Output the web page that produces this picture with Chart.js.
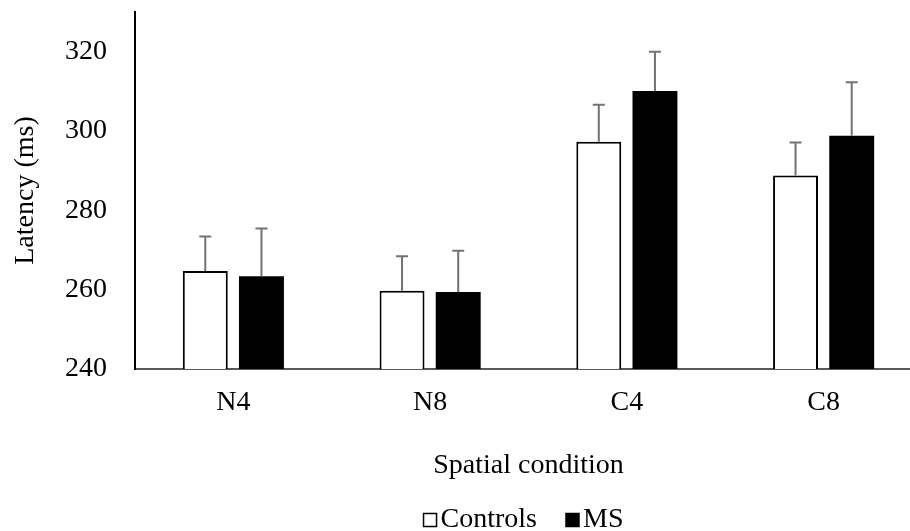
<!DOCTYPE html>
<html>
<head>
<meta charset="utf-8">
<script src="https://cdn.jsdelivr.net/npm/chart.js@4/dist/chart.umd.min.js"></script>
<style>
  html, body { margin: 0; padding: 0; background: #fff; overflow: hidden; }
  #wrap { width: 922px; height: 531px; }
</style>
</head>
<body>
<div id="wrap"><canvas id="myChart" width="922" height="531"></canvas></div>
<script>
const categories = ['N4', 'N8', 'C4', 'C8'];
const controls = [264.7, 259.7, 297.3, 288.8];
const ms = [263.4, 259.4, 310.1, 298.8];
const controlsErr = [8.7, 8.7, 9.3, 8.3];
const msErr = [12.0, 10.4, 9.9, 13.5];
const yTicks = [240, 260, 280, 300, 320];

const serif = 'Liberation Serif';
const fontSize = 28;

// upward-only error bars, drawn off the bar elements
const errorBars = {
  id: 'errorBars',
  afterDatasetsDraw(chart) {
    const ctx = chart.ctx;
    const yScale = chart.scales.y;
    chart.data.datasets.forEach((ds, i) => {
      const meta = chart.getDatasetMeta(i);
      meta.data.forEach((bar, j) => {
        const top = yScale.getPixelForValue(ds.data[j] + ds.errors[j]);
        ctx.save();
        ctx.strokeStyle = '#737373';
        ctx.lineWidth = 2;
        ctx.beginPath();
        ctx.moveTo(bar.x, bar.y);
        ctx.lineTo(bar.x, top);
        ctx.moveTo(bar.x - 6, top);
        ctx.lineTo(bar.x + 6, top);
        ctx.stroke();
        ctx.restore();
      });
    });
  }
};

// compact legend like the office one: small square right next to the text
const squareLegend = {
  id: 'squareLegend',
  afterDraw(chart) {
    const ctx = chart.ctx;
    const box = 13, gap = 4, spacing = 29;
    const y = 520;
    ctx.save();
    ctx.font = fontSize + 'px "' + serif + '"';
    const items = chart.data.datasets.map(ds => ({
      ds, w: box + gap + ctx.measureText(ds.label).width
    }));
    const total = items.reduce((s, it) => s + it.w, 0) + spacing * (items.length - 1);
    const area = chart.chartArea;
    let x = (area.left + area.right) / 2 - total / 2 - 5;
    items.forEach(it => {
      ctx.fillStyle = it.ds.backgroundColor;
      ctx.fillRect(x, y - box / 2, box, box);
      ctx.strokeStyle = '#000';
      ctx.lineWidth = 1.5;
      ctx.strokeRect(x, y - box / 2, box, box);
      ctx.fillStyle = '#000';
      ctx.textBaseline = 'middle';
      ctx.textAlign = 'left';
      ctx.fillText(it.ds.label, x + box + gap, y);
      x += it.w + spacing;
    });
    ctx.restore();
  }
};

const ctx = document.getElementById('myChart').getContext('2d');
const myChart = new Chart(ctx, {
  type: 'bar',
  data: {
    labels: categories,
    datasets: [{
      label: 'Controls',
      data: controls,
      errors: controlsErr,
      backgroundColor: '#ffffff',
      borderColor: '#000000',
      borderWidth: 2,
      barPercentage: 0.8,
      categoryPercentage: 0.571
    }, {
      label: 'MS',
      data: ms,
      errors: msErr,
      backgroundColor: '#000000',
      borderColor: '#000000',
      borderWidth: 0,
      barPercentage: 0.8,
      categoryPercentage: 0.571
    }]
  },
  options: {
    responsive: false,
    animation: false,
    layout: { padding: { top: 12, right: 0, bottom: 40, left: 0 } },
    plugins: {
      tooltip: { enabled: false },
      legend: { display: false }
    },
    scales: {
      x: {
        afterFit(scale) {
          scale.height = 122;
          scale.paddingLeft = 0;
          scale.paddingRight = 0;
        },
        grid: { display: false, drawTicks: false },
        border: { display: true, color: '#595959', width: 2 },
        ticks: { color: '#000', font: { family: serif, size: fontSize }, padding: 17 },
        title: {
          display: true,
          text: 'Spatial condition',
          color: '#000',
          font: { family: serif, size: fontSize },
          padding: { top: 0, bottom: 9 }
        }
      },
      y: {
        min: 240,
        max: 330,
        afterFit(scale) {
          scale.width = 135;
          scale.paddingTop = 0;
          scale.paddingBottom = 0;
        },
        afterBuildTicks(scale) { scale.ticks = yTicks.map(v => ({ value: v })); },
        grid: { display: false, drawTicks: false },
        border: { display: true, color: '#000', width: 2 },
        ticks: { color: '#000', font: { family: serif, size: fontSize }, padding: 28 },
        title: {
          display: true,
          text: 'Latency (ms)',
          color: '#000',
          font: { family: serif, size: fontSize },
          padding: { top: 9, bottom: 0 }
        }
      }
    }
  },
  plugins: [errorBars, squareLegend]
});
</script>
</body>
</html>
